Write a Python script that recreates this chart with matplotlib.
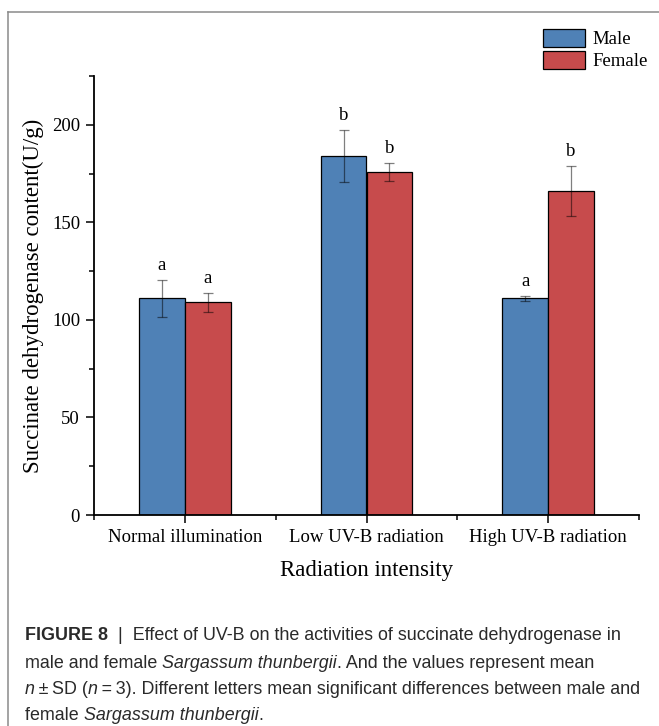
import numpy as np
import matplotlib
matplotlib.use("Agg")
from matplotlib import pyplot as plt
from matplotlib.patches import Patch
from matplotlib.ticker import MultipleLocator, FixedLocator

# Succinate dehydrogenase content (U/g), mean and SD for each treatment
groups = ["Normal illumination", "Low UV-B radiation", "High UV-B radiation"]
male_mean = [111, 184, 111]
male_sd = [9.7, 13.3, 1.3]
female_mean = [109, 176, 166]
female_sd = [4.8, 4.6, 13.0]
male_letters = ["a", "b", "a"]
female_letters = ["a", "b", "b"]

BLUE = "#4f81b6"
RED = "#c74b4c"
SERIF = "Liberation Serif"

fig = plt.figure(figsize=(6.59, 7.26), dpi=100)
ax = fig.add_axes([94 / 659, 1 - 515 / 726, 545 / 659, 439 / 726])

x = np.arange(len(groups))
w = 0.253
err_kw = dict(ecolor=(0, 0, 0, 0.5), elinewidth=0.9, capthick=0.9, capsize=3.3)
ax.bar(x - w / 2, male_mean, w, yerr=male_sd, color=BLUE, edgecolor="black",
       linewidth=0.9, error_kw=err_kw, zorder=2)
ax.bar(x + w / 2, female_mean, w, yerr=female_sd, color=RED, edgecolor="black",
       linewidth=0.9, error_kw=err_kw, zorder=2)

# Significance letters just above the error bars
for i in range(len(groups)):
    ax.text(x[i] - w / 2, male_mean[i] + male_sd[i] + 3, male_letters[i],
            ha="center", va="bottom", fontsize=13.5, family=SERIF)
    ax.text(x[i] + w / 2, female_mean[i] + female_sd[i] + 3, female_letters[i],
            ha="center", va="bottom", fontsize=13.5, family=SERIF)

ax.set_xlim(-0.5, 2.5)
ax.set_ylim(0, 225)
ax.set_xticks(x)
ax.set_xticklabels(groups, family=SERIF, fontsize=13.5)
ax.xaxis.set_minor_locator(FixedLocator([-0.5, 0.5, 1.5, 2.5]))
ax.yaxis.set_major_locator(MultipleLocator(50))
ax.yaxis.set_minor_locator(MultipleLocator(25))
for lab in ax.get_yticklabels():
    lab.set_family(SERIF)
    lab.set_fontsize(13.5)
ax.tick_params(which="major", length=6, width=1.1, pad=4)
ax.tick_params(which="minor", length=3.5, width=1.1)
for s in ["top", "right"]:
    ax.spines[s].set_visible(False)
for s in ["left", "bottom"]:
    ax.spines[s].set_linewidth(1.3)

ax.set_xlabel("Radiation intensity", family=SERIF, fontsize=16.5, labelpad=10)
ax.set_ylabel("Succinate dehydrogenase content(U/g)", family=SERIF,
              fontsize=16.5, labelpad=6)

handles = [Patch(facecolor=BLUE, edgecolor="black", linewidth=0.9, label="Male"),
           Patch(facecolor=RED, edgecolor="black", linewidth=0.9, label="Female")]
fig.legend(handles=handles, loc="upper left", bbox_to_anchor=(543 / 659, 1 - 29 / 726),
           frameon=False, prop={"family": SERIF, "size": 13.5},
           handlelength=2.25, handleheight=1.1, labelspacing=0.12,
           handletextpad=0.4, borderpad=0, borderaxespad=0)

# Outer frame (left and top edges)
fig.add_artist(plt.Line2D([8 / 659, 8 / 659], [0, 1 - 12 / 726], transform=fig.transFigure,
                          color="#8a8a8a", linewidth=1.1))
fig.add_artist(plt.Line2D([8 / 659, 1], [1 - 12 / 726, 1 - 12 / 726], transform=fig.transFigure,
                          color="#8a8a8a", linewidth=1.1))

# Caption with mixed bold / italic pieces
CAP = "Liberation Sans"
caption = [
    [("FIGURE 8", "bold", "normal"), ("  |  Effect of UV-B on the activities of succinate dehydrogenase in", "normal", "normal")],
    [("male and female ", "normal", "normal"), ("Sargassum thunbergii", "normal", "italic"),
     (". And the values represent mean", "normal", "normal")],
    [("n", "normal", "italic"), ("\u2009\u00b1\u2009SD (", "normal", "normal"), ("n", "normal", "italic"),
     ("\u2009=\u20093). Different letters mean significant differences between male and", "normal", "normal")],
    [("female ", "normal", "normal"), ("Sargassum thunbergii", "normal", "italic"), (".", "normal", "normal")],
]
renderer = fig.canvas.get_renderer()
line_y = [636, 663, 690, 716]
for parts, py in zip(caption, line_y):
    px = 25
    for txt, weight, style in parts:
        t = fig.text(px / 659, 1 - py / 726, txt, fontsize=12.9, family=CAP,
                     weight=weight, style=style, va="center", ha="left", color="#2a2a2a")
        px += t.get_window_extent(renderer).width

fig.savefig("out.png", dpi=100)
